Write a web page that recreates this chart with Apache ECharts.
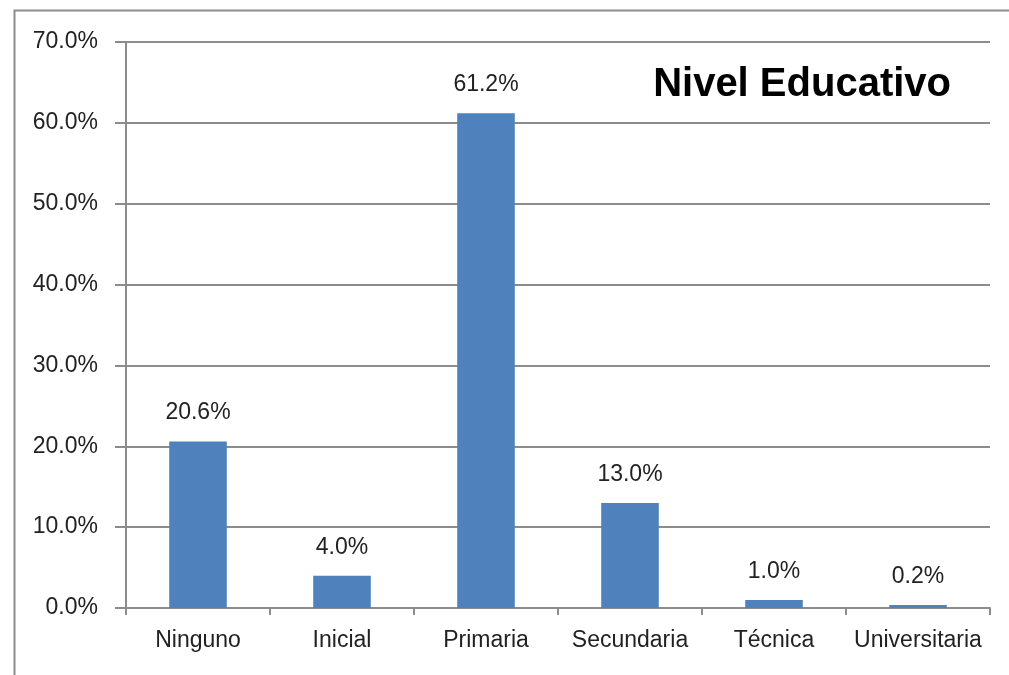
<!DOCTYPE html>
<html>
<head>
<meta charset="utf-8">
<script src="https://cdn.jsdelivr.net/npm/echarts@6/dist/echarts.min.js"></script>
<style>
html,body{margin:0;padding:0;background:#fff;}
#chart{width:1009px;height:675px;}
</style>
</head>
<body>
<div id="chart"></div>
<script>
var categories = ['Ninguno', 'Inicial', 'Primaria', 'Secundaria', 'Técnica', 'Universitaria'];
var values = [20.6, 4.0, 61.2, 13.0, 1.0, 0.2];
var titleText = 'Nivel Educativo';

var chart = echarts.init(document.getElementById('chart'), null, {renderer: 'canvas'});
var font = 'Liberation Sans, Arial, sans-serif';
chart.setOption({
  animation: false,
  backgroundColor: '#fff',
  graphic: [{
    type: 'rect', left: 12, top: 8, z: -1,
    shape: {width: 1010, height: 700},
    style: {fill: 'none', stroke: '#8c8c8c', lineWidth: 2}
  }],
  title: {
    text: titleText, right: 53, top: 60,
    textStyle: {fontFamily: font, fontWeight: 'bold', fontSize: 40, color: '#000'}
  },
  grid: {left: 126, right: 19, top: 42, bottom: 67},
  xAxis: {
    type: 'category', data: categories,
    axisLine: {lineStyle: {color: '#8c8c8c', width: 2}},
    axisTick: {show: true, interval: 0, length: 7, lineStyle: {color: '#8c8c8c', width: 2}},
    axisLabel: {interval: 0, fontFamily: font, fontSize: 23, color: '#222', margin: 21}
  },
  yAxis: {
    type: 'value', min: 0, max: 70, interval: 10,
    axisLine: {show: true, lineStyle: {color: '#8c8c8c', width: 2}},
    axisTick: {show: true, inside: false, length: 11, lineStyle: {color: '#8c8c8c', width: 2}},
    splitLine: {lineStyle: {color: '#8c8c8c', width: 2}},
    axisLabel: {fontFamily: font, fontSize: 23, color: '#222', margin: 28,
      formatter: function (v) { return v.toFixed(1) + '%'; }}
  },
  series: [{
    type: 'bar', data: values, barWidth: '40%', barMinHeight: 3,
    itemStyle: {color: '#4F81BD'},
    label: {show: true, position: 'top', distance: 17, fontFamily: font, fontSize: 23, color: '#222',
      formatter: function (p) { return p.value.toFixed(1) + '%'; }}
  }]
});
</script>
</body>
</html>
